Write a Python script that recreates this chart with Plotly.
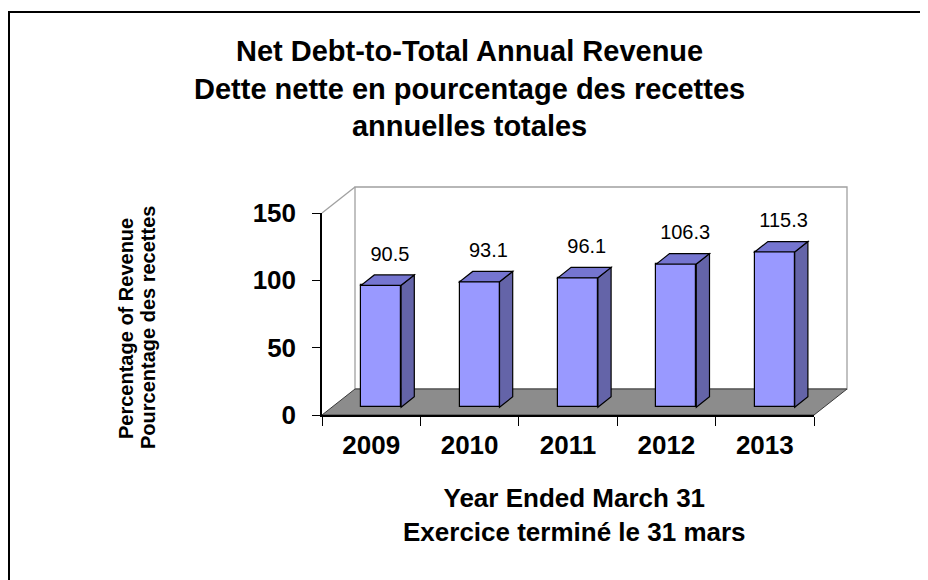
import plotly.graph_objects as go

# ---------------- data ----------------
years = ["2009", "2010", "2011", "2012", "2013"]
ratios = [90.5, 93.1, 96.1, 106.3, 115.3]
y_tick_values = [0, 50, 100, 150]
y_max = 150

title_text = ("Net Debt-to-Total Annual Revenue<br>"
              "Dette nette en pourcentage des recettes<br>"
              "annuelles totales")
x_title_text = "Year Ended March 31<br>Exercice terminé le 31 mars"
y_title_line1 = "Percentage of Revenue"
y_title_line2 = "Pourcentage des recettes"

# ---------------- style / layout geometry ----------------
FONT = "Liberation Sans, Arial, sans-serif"
W, H = 928, 580
OFF = 8                       # page offset of the figure (body margin)
PX_X0, PX_X1 = 322, 814       # window pixel of category edges (first / last)
PX_Y0, PX_Y1 = 415, 213       # window pixel of value 0 / value y_max
n = len(years)
ux = (PX_X1 - PX_X0) / n      # px per category
uy = (PX_Y0 - PX_Y1) / y_max  # px per value unit


def pxx(px):
    return (px - OFF) / W


def pxy(py):
    return 1 - (py - OFF) / H


DEPTH_X = 33 / ux             # 3-D depth of the floor, in axis units
DEPTH_Y = 26 / uy
F0, F1 = 0.30, 0.70           # bar front / back depth fractions
HALF_W = 20 / ux              # half width of bar front face
LABEL_GAP = 22                # value units above bar front top

FRONT = "#9999FF"
SIDE = "#6464A8"
TOP = "#7575D0"
FLOOR = "#8C8C8C"
WALL_LINE = "#A0A0A0"

# drawing axes span the full figure; compute their ranges
x_rng = [-0.5 - (PX_X0 - OFF) / ux, -0.5 + (W + OFF - PX_X0) / ux]
y_rng = [-(H + OFF - PX_Y0) / uy, (PX_Y0 - OFF) / uy]

shapes = []
# back wall
shapes.append(dict(type="rect", xref="x", yref="y", layer="below",
                   x0=-0.5 + DEPTH_X, x1=n - 0.5 + DEPTH_X,
                   y0=DEPTH_Y, y1=y_max + DEPTH_Y,
                   fillcolor="white", line=dict(color=WALL_LINE, width=1.3)))
# left wall top edge
shapes.append(dict(type="line", xref="x", yref="y", layer="below",
                   x0=-0.5, y0=y_max, x1=-0.5 + DEPTH_X, y1=y_max + DEPTH_Y,
                   line=dict(color=WALL_LINE, width=1.3)))
# floor
fx = [-0.5, n - 0.5, n - 0.5 + DEPTH_X, -0.5 + DEPTH_X]
fy = [0, 0, DEPTH_Y, DEPTH_Y]
shapes.append(dict(type="path", xref="x", yref="y", layer="below",
                   path="M " + " L ".join(f"{a},{b}" for a, b in zip(fx, fy)) + " Z",
                   fillcolor=FLOOR, line=dict(color="#3A3A3A", width=1)))

dX = (F1 - F0) * DEPTH_X
dY = (F1 - F0) * DEPTH_Y
for i, v in enumerate(ratios):
    xl = i - HALF_W + F0 * DEPTH_X
    xr = i + HALF_W + F0 * DEPTH_X
    yb = F0 * DEPTH_Y
    yt = yb + v
    side = [(xr, yb), (xr + dX, yb + dY), (xr + dX, yt + dY), (xr, yt)]
    top = [(xl, yt), (xr, yt), (xr + dX, yt + dY), (xl + dX, yt + dY)]
    for pts, col in ((side, SIDE), (top, TOP)):
        shapes.append(dict(type="path", xref="x", yref="y", layer="above",
                           path="M " + " L ".join(f"{a},{b}" for a, b in pts) + " Z",
                           fillcolor=col, line=dict(color="black", width=1.2)))

# outer frame of the chart
shapes.append(dict(type="rect", xref="paper", yref="paper",
                   x0=pxx(OFF + 1), x1=1.05, y0=-0.05, y1=pxy(12),
                   line=dict(color="black", width=2), fillcolor="rgba(0,0,0,0)"))

fig = go.Figure()
fig.add_trace(go.Bar(
    x=years, y=ratios, base=F0 * DEPTH_Y,
    width=2 * HALF_W, offset=-HALF_W + F0 * DEPTH_X,
    marker=dict(color=FRONT, line=dict(color="black", width=1.2)),
    xaxis="x2", yaxis="y2", hoverinfo="skip", showlegend=False))
fig.add_trace(go.Scatter(
    x=[i + F0 * DEPTH_X + 0.09 for i in range(n)],
    y=[v + F0 * DEPTH_Y + LABEL_GAP for v in ratios],
    text=[f"{v:.1f}" for v in ratios], mode="text",
    textfont=dict(family=FONT, size=20, color="black"),
    xaxis="x", yaxis="y", hoverinfo="skip", showlegend=False))

annotations = [
    dict(text=title_text, xref="paper", yref="paper", x=pxx(469), y=pxy(88),
         xanchor="center", yanchor="middle", showarrow=False,
         font=dict(family=FONT, size=29, color="black", weight="bold")),
    dict(text=x_title_text, xref="paper", yref="paper", x=pxx(574), y=pxy(515),
         xanchor="center", yanchor="middle", showarrow=False,
         font=dict(family=FONT, size=26, color="black", weight="bold")),
    dict(text=y_title_line1, xref="paper", yref="paper", x=pxx(126), y=pxy(328),
         xanchor="center", yanchor="middle", showarrow=False, textangle=-90,
         font=dict(family=FONT, size=20, color="black", weight="bold")),
    dict(text=y_title_line2, xref="paper", yref="paper", x=pxx(148), y=pxy(328),
         xanchor="center", yanchor="middle", showarrow=False, textangle=-90,
         font=dict(family=FONT, size=20, color="black", weight="bold")),
]

fig.update_layout(
    width=W, height=H, autosize=False,
    margin=dict(l=0, r=0, t=0, b=0, pad=0, autoexpand=False),
    paper_bgcolor="white", plot_bgcolor="rgba(0,0,0,0)",
    showlegend=False, bargap=0,
    shapes=shapes, annotations=annotations,
    xaxis=dict(domain=[0, 1], range=x_rng, visible=False, fixedrange=True,
               automargin=False),
    yaxis=dict(domain=[0, 1], range=y_rng, visible=False, fixedrange=True,
               automargin=False),
    xaxis2=dict(type="category", domain=[pxx(PX_X0), pxx(PX_X1)], anchor="y2",
                range=[-0.5, n - 0.5], tickson="boundaries", ticks="outside",
                ticklen=9, tickwidth=1.2, tickcolor="black",
                showline=True, linecolor="black", linewidth=1.5,
                showgrid=False, zeroline=False, ticklabelstandoff=6,
                automargin=False, fixedrange=True,
                tickfont=dict(family=FONT, size=26, color="black", weight="bold")),
    yaxis2=dict(domain=[pxy(PX_Y0), pxy(PX_Y1)], anchor="x2",
                range=[0, y_max], tickvals=y_tick_values, ticks="outside",
                ticklen=8, tickwidth=1.2, tickcolor="black",
                showline=True, linecolor="black", linewidth=1.5,
                showgrid=False, zeroline=False, ticklabelstandoff=11,
                automargin=False, fixedrange=True,
                tickfont=dict(family=FONT, size=26, color="black", weight="bold")),
)

fig.write_html("out.html")
